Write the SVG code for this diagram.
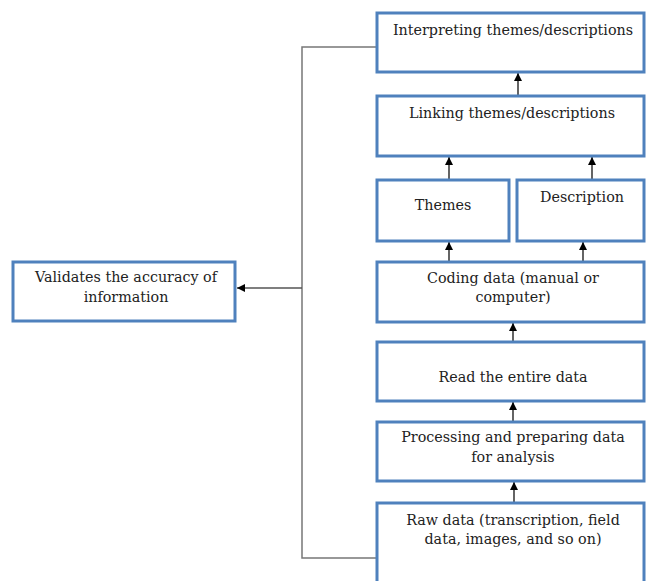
<svg xmlns="http://www.w3.org/2000/svg" width="646" height="581" viewBox="0 0 646 581">
<defs>
<marker id="ah" viewBox="0 0 10 10" refX="10" refY="5" markerWidth="8" markerHeight="8" orient="auto" markerUnits="userSpaceOnUse">
<path d="M0,0 L10,5 L0,10 z" fill="#000"/>
</marker>
<style>
.box{fill:#fff;stroke:#4f81bd;stroke-width:3}
.t{font-family:"DejaVu Serif","Liberation Serif",serif;font-size:14.3px;fill:#222;text-anchor:middle}
.c{fill:none;stroke:#111;stroke-width:1.3}
.fb{fill:none;stroke:#777;stroke-width:1.5}
</style>
</defs>
<rect width="646" height="581" fill="#fff"/>
<g id="connectors">
<polyline class="fb" points="377,47 302,47 302,558 377,558"/>
<line class="fb" x1="302" y1="288" x2="237" y2="288" marker-end="url(#ah)" style="stroke:#555"/>
<line class="c" x1="518" y1="96" x2="518" y2="73" marker-end="url(#ah)"/>
<line class="c" x1="449" y1="180" x2="449" y2="157" marker-end="url(#ah)"/>
<line class="c" x1="592" y1="180" x2="592" y2="157" marker-end="url(#ah)"/>
<line class="c" x1="449" y1="262" x2="449" y2="242" marker-end="url(#ah)"/>
<line class="c" x1="583" y1="262" x2="583" y2="242" marker-end="url(#ah)"/>
<line class="c" x1="513" y1="342" x2="513" y2="323" marker-end="url(#ah)"/>
<line class="c" x1="513" y1="422" x2="513" y2="402" marker-end="url(#ah)"/>
<line class="c" x1="514" y1="503" x2="514" y2="482" marker-end="url(#ah)"/>
</g>
<g id="interpreting">
<rect class="box" x="377" y="13" width="267" height="59"/>
<text class="t" x="513" y="35">Interpreting themes/descriptions</text>
</g>
<g id="linking">
<rect class="box" x="377" y="96" width="267" height="60"/>
<text class="t" x="512" y="118">Linking themes/descriptions</text>
</g>
<g id="themes">
<rect class="box" x="377" y="180" width="132" height="61"/>
<text class="t" x="443" y="210">Themes</text>
</g>
<g id="description">
<rect class="box" x="517" y="180" width="127" height="61"/>
<text class="t" x="582" y="202">Description</text>
</g>
<g id="coding">
<rect class="box" x="377" y="262" width="267" height="60"/>
<text class="t" x="513" y="283">Coding data (manual or</text>
<text class="t" x="513" y="302">computer)</text>
</g>
<g id="read">
<rect class="box" x="377" y="342" width="267" height="59"/>
<text class="t" x="513" y="382">Read the entire data</text>
</g>
<g id="processing">
<rect class="box" x="377" y="422" width="267" height="59"/>
<text class="t" x="513" y="442">Processing and preparing data</text>
<text class="t" x="513" y="462">for analysis</text>
</g>
<g id="raw">
<rect class="box" x="377" y="503" width="267" height="90"/>
<text class="t" x="513" y="525">Raw data (transcription, field</text>
<text class="t" x="513" y="544">data, images, and so on)</text>
</g>
<g id="validates">
<rect class="box" x="13" y="262" width="222" height="59"/>
<text class="t" x="126" y="282">Validates the accuracy of</text>
<text class="t" x="126" y="302">information</text>
</g>
</svg>
